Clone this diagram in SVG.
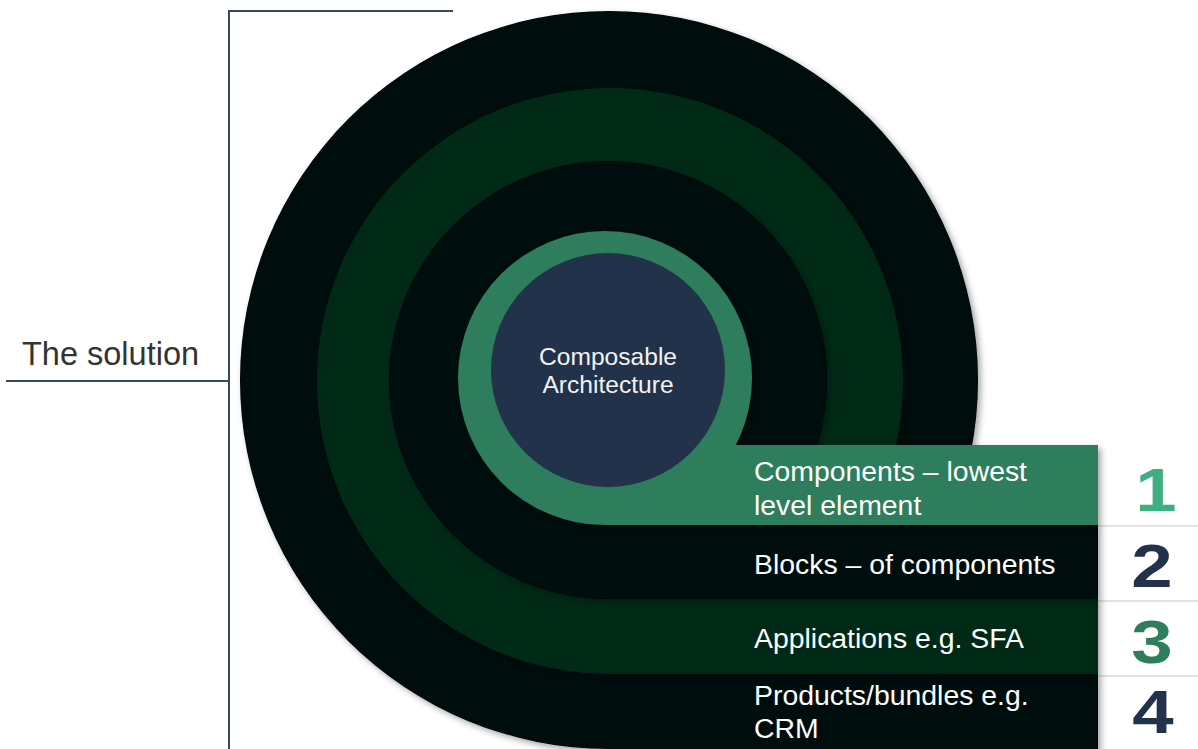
<svg xmlns="http://www.w3.org/2000/svg" width="1198" height="749" viewBox="0 0 1198 749">
  <defs>
    <filter id="shadow" x="-10%" y="-10%" width="125%" height="125%">
      <feDropShadow dx="3" dy="3" stdDeviation="3" flood-color="#000" flood-opacity="0.35"/>
    </filter>
  </defs>
  <style>
    .black { fill: #03070f; }
    .dgreen { fill: #052a17; }
    .green { fill: #2e7d5c; }
    .navy { fill: #22324a; }
    .label { font-family: "Liberation Sans", Arial, sans-serif; font-size: 28.4px; fill: #ffffff; }
    .num { font-family: "Liberation Sans", Arial, sans-serif; font-weight: bold; font-size: 62px; text-anchor: middle; }
    .sep { stroke: #d9d9d9; stroke-width: 1.5; }
    .bracket { stroke: #3a4a5e; stroke-width: 2; fill: none; }
  </style>
  <rect width="1198" height="749" fill="#ffffff"/>

  <g id="connectors">
    <polyline class="bracket" points="453,11 229,11 229,749"/>
    <line class="bracket" x1="6" y1="381" x2="229" y2="381"/>
    <line class="sep" x1="1098" y1="526" x2="1198" y2="526"/>
    <line class="sep" x1="1098" y1="601" x2="1198" y2="601"/>
    <line class="sep" x1="1098" y1="676" x2="1198" y2="676"/>
  </g>

  <g id="title">
    <text x="22" y="365" font-family="Liberation Sans, Arial, sans-serif" font-size="32.5" fill="#333333">The solution</text>
  </g>

  <g id="layer4" filter="url(#shadow)">
    <circle class="black" cx="609" cy="380" r="369"/>
    <rect class="black" x="606" y="674" width="492" height="80"/>
  </g>
  <g id="layer3" filter="url(#shadow)">
    <circle class="dgreen" cx="610" cy="381" r="293"/>
    <rect class="dgreen" x="606" y="599" width="492" height="75"/>
  </g>
  <g id="layer2" filter="url(#shadow)">
    <circle class="black" cx="608" cy="380" r="219"/>
    <rect class="black" x="606" y="525" width="492" height="74"/>
  </g>
  <g id="layer1" filter="url(#shadow)">
    <circle class="green" cx="605" cy="378" r="147"/>
    <rect class="green" x="606" y="445" width="492" height="80"/>
  </g>
  <g id="core">
    <circle class="navy" cx="608" cy="370" r="117"/>
    <text x="608" y="365" font-family="Liberation Sans, Arial, sans-serif" font-size="24.6" fill="#f2f2f2" text-anchor="middle">Composable</text>
    <text x="608" y="393" font-family="Liberation Sans, Arial, sans-serif" font-size="24.6" fill="#f2f2f2" text-anchor="middle">Architecture</text>
  </g>

  <g id="label1">
    <text class="label" x="754" y="481">Components – lowest</text>
    <text class="label" x="754" y="515">level element</text>
    <text class="num" transform="translate(1156,511) scale(1.2,1)" x="0" y="0" fill="#3daf80">1</text>
  </g>
  <g id="label2">
    <text class="label" x="754" y="574">Blocks – of components</text>
    <text class="num" transform="translate(1152,587) scale(1.2,1)" x="0" y="0" fill="#22324a">2</text>
  </g>
  <g id="label3">
    <text class="label" x="754" y="648">Applications e.g. SFA</text>
    <text class="num" transform="translate(1152,663) scale(1.2,1)" x="0" y="0" fill="#2e7d5c">3</text>
  </g>
  <g id="label4">
    <text class="label" x="754" y="705">Products/bundles e.g.</text>
    <text class="label" x="754" y="738">CRM</text>
    <text class="num" transform="translate(1153,733) scale(1.2,1)" x="0" y="0" fill="#22324a">4</text>
  </g>
</svg>
